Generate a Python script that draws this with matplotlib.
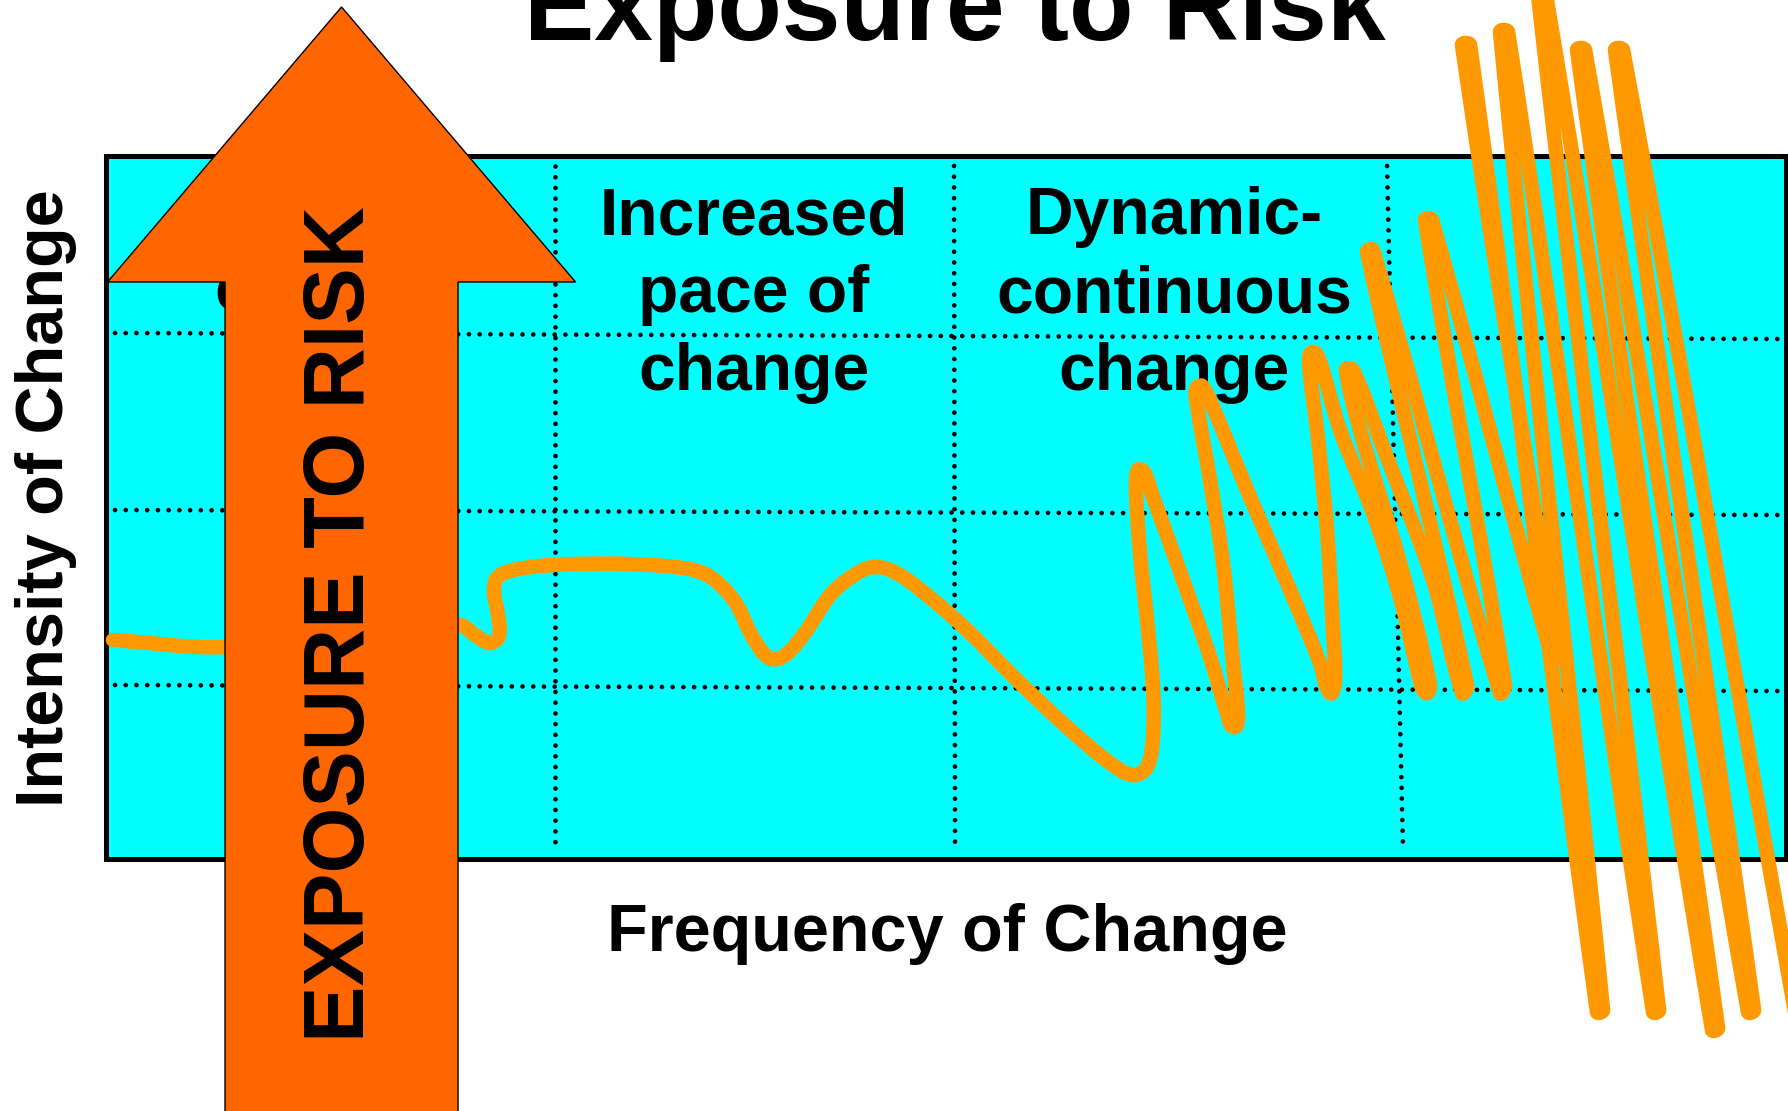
import matplotlib
matplotlib.use("Agg")
import matplotlib.pyplot as plt
import numpy as np
from matplotlib.patches import FancyArrow, PathPatch
from matplotlib.path import Path

plt.rcParams['font.family'] = ['Liberation Sans', 'DejaVu Sans']

# headings of the stages along the frequency axis
stage_labels = ["Discrete\nchange", "Increased\npace of\nchange", "Dynamic-\ncontinuous\nchange"]
stage_centres = [224, 648, 1068]
stage_baselines = [549, 469, 469]   # baseline of the last line

# dotted grid, in frequency / intensity units of the box
row_x = [9, 1674]
row_y = [[526, 520], [349, 344], [174, 168]]
col_y = [693, 9]
col_x = [[449, 449], [848, 849], [1281, 1297]]

# the change curve (frequency, intensity)
freq = [7, 118, 353, 369, 384, 393, 392, 388, 391, 404,
        434, 468, 525, 583, 606, 629, 646, 663, 678, 698,
        726, 755, 772, 794, 827, 861, 911, 961, 1004, 1027,
        1041, 1047, 1047, 1041, 1034, 1030, 1032, 1038, 1047, 1077,
        1104, 1121, 1128, 1132, 1127, 1117, 1104, 1091, 1090, 1096,
        1106, 1144, 1184, 1214, 1224, 1229, 1227, 1221, 1211, 1203,
        1207, 1214, 1234, 1267, 1294, 1314, 1320, 1324, 1294, 1254,
        1240, 1247, 1277, 1327, 1356, 1361, 1261, 1267, 1394, 1399,
        1319, 1326, 1447, 1450, 1356, 1364, 1491, 1497, 1394, 1402,
        1547, 1553, 1432, 1440, 1606, 1612, 1471, 1479, 1642, 1648,
        1509, 1517, 1694]
intensity = [219, 212, 234, 224, 216, 223, 244, 267, 281, 288,
             293, 295, 295, 290, 281, 257, 223, 201, 203, 225,
             266, 288, 292, 284, 259, 229, 179, 132, 96, 84,
             92, 122, 172, 239, 306, 369, 389, 387, 362, 279,
             202, 146, 132, 144, 196, 296, 379, 454, 470, 473,
             454, 362, 269, 196, 166, 177, 229, 329, 429, 497,
             507, 497, 429, 346, 262, 179, 166, 174, 296, 429,
             489, 489, 412, 279, 166, 174, 607, 609, 166, 174,
             639, 639, 198, 209, 814, 814, -153, -151, 827, 827,
             -153, -151, 864, 864, -171, -169, 809, 809, -153, -151,
             809, 809, -181]


def smooth_path(xs, ys):
    # smooth bezier through the points, tangents scaled by segment length
    p = np.column_stack([xs, ys]).astype(float)
    n = len(p)
    tang = np.zeros_like(p)
    for i in range(n):
        a = p[max(i - 1, 0)]
        b = p[min(i + 1, n - 1)]
        d = b - a
        tang[i] = d / (np.hypot(*d) or 1.0)
    verts = [p[0]]
    codes = [Path.MOVETO]
    for i in range(n - 1):
        seg = np.hypot(*(p[i + 1] - p[i])) / 3.0
        verts += [p[i] + tang[i] * seg, p[i + 1] - tang[i + 1] * seg, p[i + 1]]
        codes += [Path.CURVE4] * 3
    return Path(verts, codes)


fig = plt.figure(figsize=(17.88, 11.11), dpi=100)
ax = fig.add_axes([0.0593, 0.2268, 0.9396, 0.6328])
ax.set_facecolor('#00FFFF')
for s in ax.spines.values():
    s.set_linewidth(3.6)
    s.set_color('black')
    s.set_zorder(3)
ax.set_xticks([])
ax.set_yticks([])

# dotted grid
dot = dict(color='black', lw=3.4, linestyle=(0, (0.001, 2.27)),
           dash_capstyle='round', zorder=1)
for ys in row_y:
    ax.plot(row_x, ys, **dot)
for xs in col_x:
    ax.plot(xs, col_y, **dot)

for lab, xc, yb in zip(stage_labels, stage_centres, stage_baselines):
    ax.text(xc, yb, lab, ha='center', va='baseline', fontsize=47.5,
            fontweight='bold', linespacing=1.33, zorder=2)

curve = PathPatch(smooth_path(freq, intensity), facecolor='none',
                  edgecolor='#FF9900', lw=10.5, capstyle='round',
                  joinstyle='round', zorder=4, clip_on=False)
ax.add_patch(curve)

# big exposure arrow
arrow = FancyArrow(235.5, -270, 0, 1122, width=233, head_width=468,
                   head_length=275, length_includes_head=True,
                   facecolor='#FF6600', edgecolor='black', lw=1.0,
                   zorder=5, clip_on=False)
ax.add_patch(arrow)
ax.text(236, 235, "EXPOSURE TO RISK", rotation=90, ha='center', va='center',
        fontsize=61, fontweight='bold', zorder=6)

ax.set_xlim(0, 1680)
ax.set_ylim(0, 703)

fig.text(0.5341, 0.964, "Exposure to Risk", ha='center', va='baseline',
         fontsize=76, fontweight='bold')
fig.text(0.0352, 0.5518, "Intensity of Change", rotation=90, rotation_mode='anchor',
         ha='center', va='baseline', fontsize=48, fontweight='bold')
fig.text(0.5296, 0.144, "Frequency of Change", ha='center', va='baseline',
         fontsize=48, fontweight='bold')

fig.savefig('out.png', dpi=100)
